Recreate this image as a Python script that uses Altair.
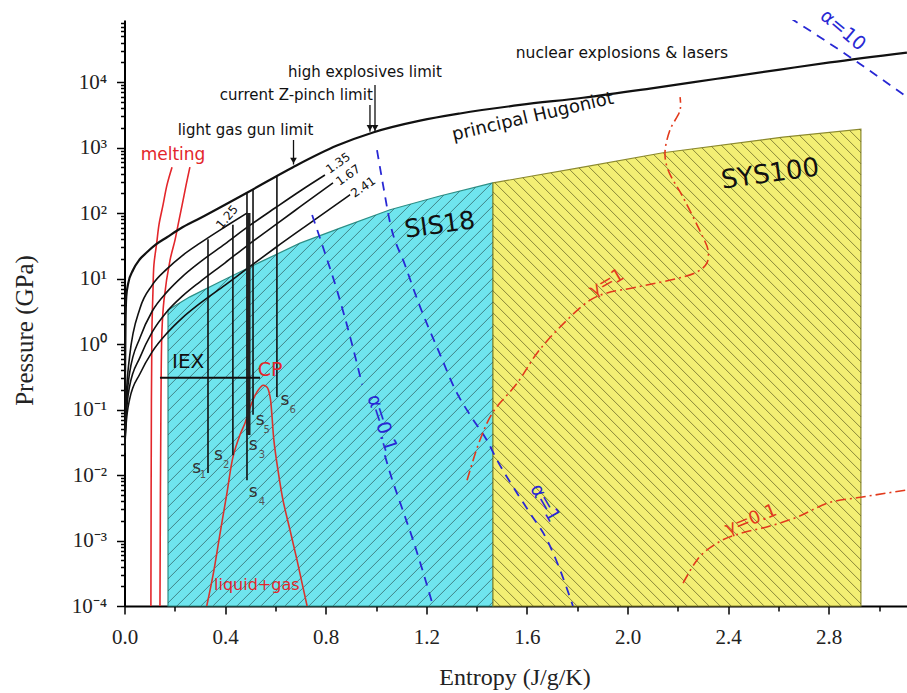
import altair as alt
import numpy as np
import pandas as pd

# ---------------- data ----------------
# x: entropy (J/g/K); *_lp: log10 of pressure (GPa)
hug_x = [0.0, 0.002, 0.004, 0.007, 0.015, 0.034, 0.060, 0.089, 0.125, 0.169, 0.221, 0.300, 0.487, 0.670,
         0.845, 0.988, 1.175, 1.334, 1.573, 1.823, 2.089, 2.356, 2.606, 2.805, 3.111]
hug_lp = [-1.66, -0.60, 0.30, 0.72, 0.93, 1.13, 1.29, 1.40, 1.52, 1.63, 1.76, 1.92, 2.31, 2.70,
          3.03, 3.23, 3.41, 3.52, 3.65, 3.76, 3.90, 4.05, 4.19, 4.30, 4.45]

h125_x = [0.0, 0.006, 0.020, 0.062, 0.110, 0.170, 0.230, 0.300, 0.400, 0.487]
h125_lp = [-1.66, -0.90, -0.20, 0.55, 0.90, 1.15, 1.35, 1.54, 1.79, 2.00]

h135_x = [0.0, 0.006, 0.020, 0.062, 0.110, 0.170, 0.230, 0.300, 0.400, 0.487, 0.600, 0.700, 0.797]
h135_lp = [-1.66, -1.05, -0.45, 0.10, 0.50, 0.80, 1.03, 1.25, 1.53, 1.78, 2.08, 2.34, 2.58]

h167_x = [0.0, 0.006, 0.020, 0.062, 0.110, 0.170, 0.230, 0.300, 0.400, 0.487, 0.600, 0.700, 0.829]
h167_lp = [-1.66, -1.15, -0.65, -0.20, 0.18, 0.50, 0.73, 0.95, 1.24, 1.50, 1.82, 2.10, 2.46]

h241_x = [0.0, 0.006, 0.020, 0.062, 0.110, 0.170, 0.230, 0.300, 0.400, 0.487, 0.600, 0.750, 0.897]
h241_lp = [-1.66, -1.25, -0.85, -0.45, -0.12, 0.17, 0.40, 0.62, 0.90, 1.15, 1.47, 1.88, 2.28]

melt1_x = [0.189, 0.169, 0.153, 0.137, 0.128, 0.117, 0.113, 0.109, 0.107, 0.105]
melt1_lp = [2.70, 2.43, 2.12, 1.82, 1.54, 1.21, 0.78, 0.21, -0.86, -4.0]
melt2_x = [0.260, 0.245, 0.229, 0.213, 0.201, 0.181, 0.157, 0.149, 0.145, 0.141]
melt2_lp = [2.70, 2.43, 2.12, 1.82, 1.59, 1.28, 0.67, 0.21, -0.86, -4.0]

dome_x = [0.327, 0.352, 0.380, 0.408, 0.431, 0.459, 0.479, 0.503, 0.527, 0.551, 0.567, 0.579,
          0.586, 0.594, 0.610, 0.630, 0.658, 0.686, 0.706, 0.726]
dome_lp = [-4.0, -3.53, -2.89, -2.26, -1.73, -1.39, -1.21, -0.93, -0.73, -0.63, -0.66, -0.81,
           -1.08, -1.47, -1.92, -2.38, -2.84, -3.30, -3.65, -4.0]

sis_x = [0.173, 0.260, 0.380, 0.539, 0.698, 0.857, 1.056, 1.254, 1.465]
sis_lp = [0.52, 0.72, 0.95, 1.25, 1.54, 1.77, 2.05, 2.26, 2.46]
sys_x = [1.465, 1.823, 2.141, 2.618, 2.928]
sys_lp = [2.46, 2.70, 2.92, 3.16, 3.28]

a01_top_x = [0.746, 0.797, 0.845, 0.897, 0.945]
a01_top_lp = [1.97, 1.39, 0.82, 0.11, -0.62]
a01_bot_x = [1.035, 1.056, 1.103, 1.147, 1.187, 1.227]
a01_bot_lp = [-1.70, -1.97, -2.50, -2.99, -3.48, -4.0]
a1_x = [1.004, 1.028, 1.056, 1.115, 1.175, 1.247, 1.322, 1.382, 1.441, 1.481, 1.545, 1.612, 1.680, 1.732, 1.783]
a1_lp = [2.96, 2.43, 1.85, 1.21, 0.57, -0.09, -0.75, -1.13, -1.47, -1.77, -2.18, -2.58, -2.99, -3.45, -4.0]
a10_x = [2.646, 2.885, 3.111]
a10_lp = [4.98, 4.38, 3.77]

g1_x = [1.362, 1.413, 1.465, 1.561, 1.640, 1.732, 1.851, 1.919, 2.038, 2.276, 2.316, 2.320, 2.300,
        2.221, 2.161, 2.149, 2.169, 2.209, 2.209]
g1_lp = [-2.08, -1.47, -1.04, -0.60, -0.14, 0.26, 0.67, 0.78, 0.87, 1.10, 1.24, 1.44, 1.63,
         2.24, 2.66, 2.92, 3.27, 3.57, 3.77]
g01_x = [2.221, 2.276, 2.356, 2.450, 2.557, 2.676, 2.795, 2.927, 3.111]
g01_lp = [-3.65, -3.30, -3.04, -2.89, -2.79, -2.64, -2.43, -2.34, -2.23]

s_x = [0.332, 0.431, 0.487, 0.511, 0.606]
s_top = [1.60, 1.82, 2.30, 2.35, 2.56]
s_bot = [-1.97, -1.70, -2.08, -1.08, -0.81]
s3_x = [0.493]
s3_top = [2.00]
s3_bot = [-1.39]

iex_x = [0.141, 0.539]
iex_lp = [-0.515]

arrow_x = [0.672, 0.976, 0.996]
arrow_top = [3.115, 3.649, 3.954]
arrow_tip = [2.74, 3.24, 3.24]

labels = ["melting", "light gas gun limit", "current Z-pinch limit", "high explosives limit",
          "nuclear explosions & lasers", "principal Hugoniot", "SIS18", "SYS100",
          "1.25", "1.35", "1.67", "2.41", "IEX", "CP", "liquid+gas",
          "α=0.1", "α=1", "α=10", "γ=1", "γ=0.1",
          "s", "1", "s", "2", "s", "3", "s", "4", "s", "5", "s", "6"]
label_x = [0.193, 0.481, 0.683, 0.956, 1.978, 1.624, 1.254, 2.567,
           0.408, 0.849, 0.889, 0.949, 0.253, 0.579, 0.526,
           1.024, 1.672, 2.857, 1.918, 2.491,
           0.287, 0.312, 0.373, 0.404, 0.512, 0.546, 0.512, 0.546, 0.539, 0.565, 0.638, 0.669]
label_lp = [2.885, 3.267, 3.80, 4.16, 4.45, 3.466, 1.817, 2.595,
            1.94, 2.763, 2.58, 2.397, -0.275, -0.397, -3.68,
            -1.206, -2.427, 4.794, 0.931, -2.687,
            -1.898, -2.0, -1.695, -1.847, -1.542, -1.695, -2.255, -2.408, -1.160, -1.313, -0.855, -1.008]

# ---------------- styles ----------------
RED = "#e3262b"
BLUE = "#2828d4"
DRED = "#e23a1c"
BLACK = "#111111"
CYAN = "#6fe5ee"
YELLOW = "#f3ef74"

label_color = ([RED] + [BLACK] * 12 + [RED, RED] + [BLUE] * 3 + [DRED] * 2 + ["#333333", "#555555"] * 6)
label_size = ([17, 15, 15, 15, 15.5, 18, 25, 26, 12, 12, 12, 12, 20, 19, 16, 19, 19, 19, 18, 18]
              + [17, 10] * 6)
label_angle = ([0, 0, 0, 0, 0, 347, 352, 352, 310, 325, 325, 325, 0, 0, 0, 72, 60, 40, 330, 338]
               + [0, 0] * 6)

W, H = 782.5, 586.0
XMAX = 3.1113
LTOP = 4.947
YMAX = 10 ** LTOP

xsc = alt.Scale(domain=[0, XMAX], nice=False, zero=False)
ysc = alt.Scale(type="log", domain=[1e-4, YMAX], nice=False)

# ---------------- axes ----------------
xvals = [round(v, 1) for v in np.arange(0, 3.01, 0.2)]
major_x = "round(datum.value*10) % 4 == 0"
xaxis = alt.Axis(
    values=xvals, title="Entropy (J/g/K)", grid=False,
    labelExpr=f"{major_x} ? format(datum.value, '.1f') : ''",
    tickSize={"condition": {"test": major_x, "value": 8}, "value": 5},
    labelFont="Liberation Serif", labelFontSize=21, labelColor="#222", labelPadding=12,
    labelOverlap=False, labelFlush=False,
    titleFont="Liberation Serif", titleFontSize=24, titleFontWeight="normal", titleColor="#222",
    titleX=390, titleY=71, titleBaseline="middle",
    domainColor="black", domainWidth=2, tickColor="black", tickWidth=1.5,
)

yvals = [m * 10.0 ** e for e in range(-4, 5) for m in range(1, 10) if m * 10.0 ** e <= YMAX]
sup = {-4: "⁻⁴", -3: "⁻³", -2: "⁻²", -1: "⁻¹", 0: "⁰", 1: "¹", 2: "²", 3: "³", 4: "⁴"}
E = "round(log(datum.value)/LN10)"
major_y = f"abs(log(datum.value)/LN10 - {E}) < 0.001"
nested = "''"
for e in sorted(sup, reverse=True):
    nested = f"({E} == {e} ? '{sup[e]}' : {nested})"
yaxis = alt.Axis(
    values=yvals, title="Pressure (GPa)", grid=False,
    labelExpr=f"{major_y} ? '10' + {nested} : ''",
    tickSize={"condition": {"test": major_y, "value": 8}, "value": 4},
    labelFont="Liberation Serif", labelFontSize=21, labelColor="#222", labelPadding=10,
    labelOverlap=False, labelFlush=False,
    titleFont="Liberation Serif", titleFontSize=25, titleFontWeight="normal", titleColor="#222",
    titleX=-100, titleY=310, titleAngle=270, titleAlign="center", titleBaseline="middle",
    domainColor="black", domainWidth=2, tickColor="black", tickWidth=1.5,
)

X = alt.X("x:Q", scale=xsc, axis=xaxis)
Y = alt.Y("p:Q", scale=ysc, axis=yaxis)


def pts(xs, lps):
    return pd.DataFrame({"x": xs, "p": [10.0 ** v for v in lps], "i": list(range(len(xs)))})


def curve(xs, lps, color, width, dash=None, interp="catmull-rom"):
    kw = dict(color=color, strokeWidth=width, clip=True, interpolate=interp)
    if dash:
        kw["strokeDash"] = dash
    return alt.Chart(pts(xs, lps)).mark_line(**kw).encode(x=X, y=Y, order="i:Q")


# ---------------- regions ----------------
def region_df(xs, lps):
    d = pts(xs, lps)
    d["p0"] = 1e-4
    return d


sis = alt.Chart(region_df(sis_x, sis_lp)).mark_area(
    color=CYAN, stroke="#2d8f86", strokeWidth=1.2, interpolate="linear", opacity=1
).encode(x=X, y=Y, y2="p0:Q")
sysr = alt.Chart(region_df(sys_x, sys_lp)).mark_area(
    color=YELLOW, stroke="#8c8a2e", strokeWidth=1.2, interpolate="linear", opacity=1
).encode(x=X, y=Y, y2="p0:Q")

# hatch lines (45 degrees on screen), clipped to each region
k = (W / XMAX) / (H / (LTOP + 4))  # decades per entropy unit for a 45 deg line


def hatch(bx, bl, spacing_px, sign):
    x0, x1 = bx[0], bx[-1]
    top = max(bl)
    dx = spacing_px / (W / XMAX)
    span = (top + 4) / k
    grid = np.linspace(x0, x1, 800)
    bnd = np.interp(grid, bx, bl)
    rows = []
    starts = np.arange(x0 - span, x1 + span + dx, dx)
    for xs in starts:
        lp = -4 + sign * k * (grid - xs)
        ok = (lp >= -4) & (lp <= bnd)
        if ok.sum() < 2:
            continue
        idx = np.where(ok)[0]
        a, b = idx[0], idx[-1]
        rows.append({"x": grid[a], "p": 10 ** lp[a], "x2": grid[b], "p2": 10 ** lp[b]})
    return pd.DataFrame(rows)


hatch_sis = alt.Chart(hatch(sis_x, sis_lp, 12, 1)).mark_rule(
    color="#2a5556", strokeWidth=0.8, opacity=0.85).encode(x=X, y=Y, x2="x2:Q", y2="p2:Q")
hatch_sys = alt.Chart(hatch(sys_x, sys_lp, 11, -1)).mark_rule(
    color="#55531c", strokeWidth=0.8, opacity=0.85).encode(x=X, y=Y, x2="x2:Q", y2="p2:Q")

# ---------------- curves ----------------
MONO = "monotone"
layers = [sis, sysr, hatch_sis, hatch_sys]
layers += [
    curve(melt1_x, melt1_lp, RED, 1.6),
    curve(melt2_x, melt2_lp, RED, 1.6),
    curve(dome_x, dome_lp, "#d8342e", 1.6),
    curve(hug_x, hug_lp, BLACK, 2.2, interp=MONO),
    curve(h125_x, h125_lp, BLACK, 1.6, interp=MONO),
    curve(h135_x, h135_lp, BLACK, 1.6, interp=MONO),
    curve(h167_x, h167_lp, BLACK, 1.6, interp=MONO),
    curve(h241_x, h241_lp, BLACK, 1.6, interp=MONO),
    curve(a01_top_x, a01_top_lp, BLUE, 1.8, [9, 7], MONO),
    curve(a01_bot_x, a01_bot_lp, BLUE, 1.8, [9, 7], MONO),
    curve(a1_x, a1_lp, BLUE, 1.8, [9, 7], MONO),
    curve(a10_x, a10_lp, BLUE, 1.8, [9, 7], MONO),
    curve(g1_x, g1_lp, DRED, 1.6, [10, 4, 2, 4]),
    curve(g01_x, g01_lp, DRED, 1.6, [10, 4, 2, 4], MONO),
]

sdf = pd.DataFrame({"x": s_x, "p": [10 ** v for v in s_top], "p2": [10 ** v for v in s_bot]})
layers.append(alt.Chart(sdf).mark_rule(color=BLACK, strokeWidth=1.6).encode(x=X, y=Y, y2="p2:Q"))
s3df = pd.DataFrame({"x": s3_x, "p": [10 ** v for v in s3_top], "p2": [10 ** v for v in s3_bot]})
layers.append(alt.Chart(s3df).mark_rule(color="#222", strokeWidth=4).encode(x=X, y=Y, y2="p2:Q"))
iexdf = pd.DataFrame({"x": [iex_x[0]], "x2": [iex_x[1]], "p": [10 ** iex_lp[0]]})
layers.append(alt.Chart(iexdf).mark_rule(color=BLACK, strokeWidth=2).encode(x=X, x2="x2:Q", y=Y))

adf = pd.DataFrame({"x": arrow_x, "p": [10 ** v for v in arrow_top], "p2": [10 ** v for v in arrow_tip]})
layers.append(alt.Chart(adf).mark_rule(color=BLACK, strokeWidth=1.3).encode(x=X, y=Y, y2="p2:Q"))
hdf = pd.DataFrame({"x": arrow_x, "p": [10 ** v for v in arrow_tip]})
layers.append(alt.Chart(hdf).mark_point(shape="triangle-down", filled=True, color=BLACK,
                                        size=45, opacity=1, yOffset=-4).encode(x=X, y=Y))

tdf = pd.DataFrame({"x": label_x, "p": [10 ** v for v in label_lp], "t": labels,
                    "c": label_color, "s": label_size, "a": label_angle})
layers.append(alt.Chart(tdf).mark_text(font="DejaVu Sans", align="center", baseline="middle").encode(
    x=X, y=Y, text="t:N",
    color=alt.Color("c:N", scale=None),
    size=alt.Size("s:Q", scale=None),
    angle=alt.Angle("a:Q", scale=None),
))

chart = alt.layer(*layers).properties(
    width=W, height=H,
    autosize=alt.AutoSizeParams(type="none"),
    padding={"left": 124.5, "top": 20, "right": 0, "bottom": 87},
    background="white",
).configure_view(stroke=None)

chart.save("out.html", embed_options={"renderer": "svg", "actions": False})
